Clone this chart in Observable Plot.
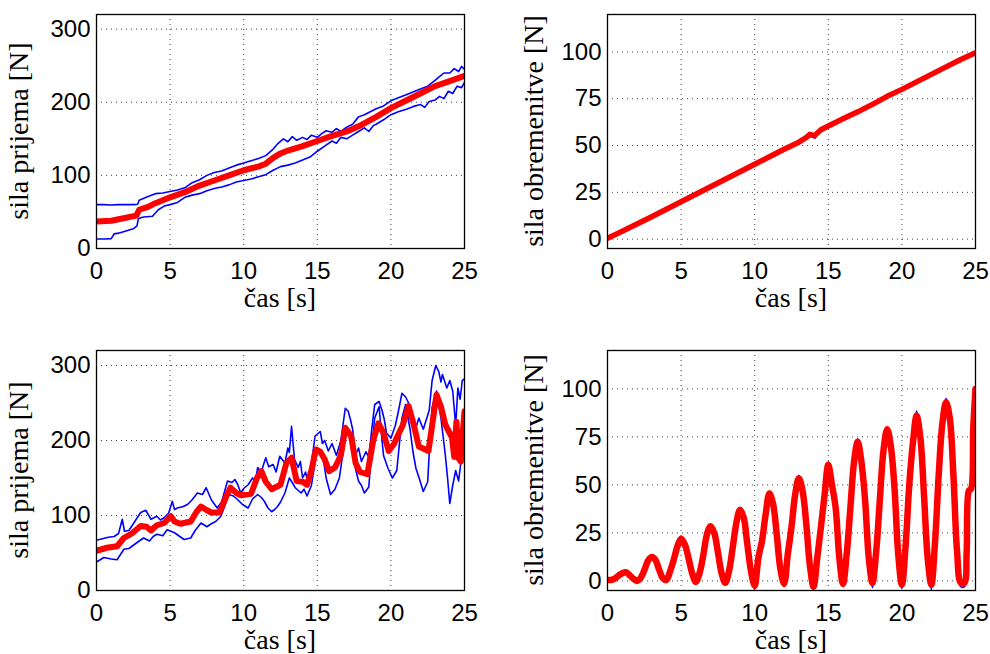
<!DOCTYPE html>
<html><head><meta charset="utf-8">
<script src="https://cdn.jsdelivr.net/npm/d3@7"></script>
<script src="https://cdn.jsdelivr.net/npm/@observablehq/plot@0.6"></script>
<style>
body{margin:0;background:#fff;}
#wrap{position:relative;width:990px;height:654px;background:#fff;}
.panel{position:absolute;width:495px;height:327px;}
</style></head><body><div id="wrap"></div>
<script>
// ---- shared tick labels ----
const xTicks = [0, 5, 10, 15, 20, 25];
const yTicksGrip = [0, 100, 200, 300];
const yTicksLoad = [0, 25, 50, 75, 100];
const xLabel = "čas [s]";
const yLabelGrip = "sila prijema [N]";
const yLabelLoad = "sila obremenitve [N]";

// ---- top-left: grip force, ramp load ([t, N]) ----
const tlUpper = [[0,60],[0.5,60],[1,59.5],[1.5,60],[2,60],[2.5,60],[2.8,60.5],[2.9,66],[3.5,71],[4,75],[4.5,76],[5,78],[5.5,80],[6,83],[6.5,90],[7,94],[7.5,100],[8,104],[8.5,106],[9,110],[9.5,114],[10,117],[10.5,120],[11,123],[11.5,127],[12,136],[12.3,143],[12.7,150],[13,146],[13.3,153],[13.6,148],[14,152],[14.3,149],[14.6,155],[15,152],[15.3,157],[15.6,161],[16,159],[16.3,164],[16.6,160],[17,166],[17.4,170],[17.8,180],[18.2,183],[18.6,187],[19,191],[19.5,195],[20,202],[20.5,206],[21,210],[21.5,214],[22,218],[22.5,222],[23,230],[23.3,235],[23.6,240],[24,240],[24.3,246],[24.6,242],[24.8,249],[25,245]];
const tlLower = [[0,13],[0.5,13],[1,13.5],[1.2,20],[1.5,21],[2,24],[2.5,27],[2.75,31],[2.85,41],[3.2,43],[3.8,44],[4.2,53],[4.6,58],[5,60],[5.5,63],[6,70],[6.5,73],[7,75],[7.5,79],[8,82],[8.5,84],[9,87],[9.5,91],[10,93],[10.5,95],[11,98],[11.5,101],[12,107],[12.5,112],[13,114],[13.5,117],[14,121],[14.5,125],[15,133],[15.5,140],[16,147],[16.3,144],[16.6,152],[17,150],[17.4,155],[17.8,160],[18.2,165],[18.5,160],[18.8,168],[19,170],[19.5,176],[20,183],[20.5,187],[21,190],[21.5,194],[22,197],[22.3,193],[22.6,201],[23,203],[23.3,208],[23.6,205],[23.9,215],[24.2,212],[24.5,222],[24.8,220],[25,227]];
const tlMean = [[0,37],[1,38],[2,42],[2.7,45],[2.9,53],[3.5,57],[4,62],[4.5,66],[5,70],[6,77],[7,86],[8,93],[9,100],[10,107],[11,112],[11.5,116],[12,124],[12.5,130],[13,134],[14,140],[15,147],[16,154],[17,160],[18,169],[19,180],[20,192],[21,202],[22,212],[23,222],[24,229],[25,236]];

// ---- top-right: load force, ramp ----
const trBlue = [[0,0.3],[1,4.1],[2,8],[3,12],[4,16],[5,20],[6,24],[7,28],[8,32],[9,36],[10,40],[11,44],[12,48],[13,51],[13.3,52.5],[13.6,54],[13.9,55.5],[14.1,54],[14.4,57.5],[15,60],[15.6,62],[16,64],[17,68],[18,72],[19,76],[20,80],[21,84],[22,88],[23,92],[24,96],[25,100]];
const trMean = [[0,0.5],[1,4.2],[2,8.1],[3,12],[4,16],[5,20],[6,24],[7,28],[8,32],[9,36],[10,40],[11,44],[12,48],[13,51.8],[13.5,54.3],[13.75,56],[14.05,55.2],[14.5,58.4],[15,60.4],[16,64.3],[17,68],[18,72],[19,76.3],[20,80],[21,84],[22,88],[23,92],[24,96],[25,99.5]];

// ---- bottom-left: grip force, oscillating load ----
const blUpper = [[0,67],[0.4,69],[0.8,71],[1.2,72],[1.5,76],[1.75,95],[1.9,79],[2.2,80],[2.6,92],[3,104],[3.35,107],[3.7,95],[4.1,99],[4.35,94],[4.6,97],[4.9,103],[5.15,119],[5.3,108],[5.5,110],[5.9,112],[6.2,115],[6.5,121],[6.85,130],[7.2,128],[7.45,137],[7.8,121],[8.2,110],[8.5,118],[8.7,132],[8.9,146],[9.2,144],[9.4,148],[9.6,141],[9.8,130],[10,136],[10.3,141],[10.6,150],[10.8,146],[10.95,164],[11.2,158],[11.35,168],[11.5,177],[11.7,165],[12,168],[12.2,158],[12.45,179],[12.8,170],[13,190],[13.1,184],[13.25,219],[13.45,175],[13.7,164],[13.85,172],[14,150],[14.2,158],[14.4,140],[14.6,170],[14.85,206],[15.2,212],[15.35,196],[15.5,200],[15.75,186],[16,196],[16.3,180],[16.6,200],[16.9,243],[17.1,239],[17.25,228],[17.4,215],[17.6,181],[17.8,190],[18,172],[18.3,185],[18.5,178],[18.7,215],[18.9,248],[19.2,252],[19.4,240],[19.55,228],[19.7,210],[20,203],[20.3,220],[20.5,238],[20.75,263],[21,258],[21.2,250],[21.35,240],[21.5,230],[21.7,217],[21.9,230],[22.2,215],[22.6,240],[22.8,280],[23.05,300],[23.25,292],[23.4,278],[23.5,288],[23.8,270],[24,280],[24.2,266],[24.4,220],[24.55,270],[24.7,255],[24.85,280],[25,282]];
const blLower = [[0,38],[0.5,44],[1,42],[1.4,41],[1.86,55],[2.2,56],[2.55,61],[2.9,66],[3.2,70],[3.6,66],[3.85,72],[4.1,75],[4.5,73],[4.8,81],[5.3,77],[5.95,68],[6.4,70],[6.7,80],[7.1,90],[7.5,85],[7.8,89],[8.1,92],[8.45,99],[8.7,112],[9,128],[9.3,126],[9.6,121],[9.9,115],[10.3,110],[10.6,122],[10.95,128],[11.2,124],[11.4,119],[11.65,110],[11.9,105],[12.1,108],[12.3,112],[12.5,118],[12.8,130],[13.1,150],[13.3,144],[13.5,137],[13.9,130],[14.1,135],[14.3,126],[14.6,140],[14.8,165],[15,190],[15.3,186],[15.45,170],[15.6,150],[15.9,128],[16.2,135],[16.5,150],[16.7,178],[16.9,204],[17.2,212],[17.35,190],[17.5,170],[17.8,146],[18,140],[18.2,130],[18.5,138],[18.7,190],[18.9,230],[19.2,245],[19.35,210],[19.5,180],[19.8,163],[20.1,150],[20.4,160],[20.6,200],[20.75,230],[21,248],[21.3,215],[21.5,185],[21.7,163],[21.95,148],[22.2,132],[22.5,145],[22.65,200],[22.8,244],[23.1,266],[23.4,230],[23.7,180],[23.85,150],[24,116],[24.2,140],[24.4,160],[24.6,146],[24.75,170],[25,199]];
const blMean = [[0,53],[0.7,57],[1.4,59],[1.86,70],[2.4,76],[3,86],[3.4,85],[3.7,80],[4.1,87],[4.6,90],[5.05,99],[5.3,92],[5.7,89],[6.4,92],[6.8,105],[7.1,112],[7.5,107],[7.8,104],[8.35,104],[8.8,125],[9.1,137],[9.5,130],[9.8,127],[10.5,129],[10.9,150],[11.2,159],[11.5,145],[11.9,135],[12.5,141],[12.9,170],[13.25,177],[13.6,146],[14,145],[14.3,141],[14.6,160],[14.9,188],[15.2,185],[15.5,175],[15.8,159],[16.2,164],[16.6,180],[16.9,217],[17.3,206],[17.6,170],[17.9,158],[18.4,155],[18.8,200],[19.15,223],[19.5,210],[19.85,186],[20.2,195],[20.5,208],[20.8,220],[21.2,246],[21.5,225],[21.9,192],[22.55,186],[22.8,220],[23.1,261],[23.4,245],[23.7,221],[24.15,204],[24.3,178],[24.45,225],[24.6,176],[24.75,172],[24.9,215],[25,239]];

// ---- bottom-right: load force, growing oscillation ----
const brMean = [[0,0.5],[0.25,0.5],[0.5,1.2],[0.75,2.8],[1,4],[1.25,4.5],[1.5,3],[1.75,1.2],[2,0],[2.25,1.5],[2.5,5.5],[2.75,10.5],[3,12.5],[3.25,11],[3.5,6],[3.75,1.5],[4,0.5],[4.25,5],[4.5,11],[4.75,18],[5,22],[5.25,19],[5.5,12],[5.75,4],[6,-0.5],[6.25,4],[6.5,13],[6.75,24],[7,28.5],[7.25,25],[7.5,15],[7.75,4],[8,-1],[8.25,5],[8.5,17],[8.75,30],[9,37],[9.25,33],[9.5,19],[9.75,5],[10,-2.5],[10.25,12],[10.5,21],[10.75,35],[11,45.5],[11.25,40],[11.5,24],[11.75,6],[12,-1.5],[12.25,14],[12.5,28],[12.75,45],[13,53.5],[13.25,47],[13.5,30],[13.75,8],[14,-3],[14.25,12],[14.5,28],[14.75,45],[15,60.5],[15.25,50],[15.5,38],[15.75,12],[16,-1.5],[16.25,14],[16.5,38],[16.75,62],[17,72.5],[17.25,62],[17.5,42],[17.75,12],[18,-1],[18.25,15],[18.5,42],[18.75,68],[19,79],[19.25,70],[19.5,48],[19.75,14],[20,-2],[20.25,18],[20.5,50],[20.75,72],[21,86],[21.25,75],[21.5,45],[21.75,12],[22,-2],[22.25,20],[22.5,55],[22.75,82],[23,93],[23.25,85],[23.5,55],[23.75,15],[24,-1],[24.25,-1],[24.4,15],[24.55,47],[24.7,48],[24.85,80],[25,100]];
const brBlue = [[0,0.5],[0.25,0.5],[0.5,1.2],[0.75,2.8],[1,4.3],[1.25,4.8],[1.5,3],[1.75,1.2],[2,-0.3],[2.25,1.5],[2.5,5.5],[2.75,10.5],[3,13],[3.25,11],[3.5,6],[3.75,1.5],[4,-0.3],[4.25,5],[4.5,11],[4.75,18],[5,23],[5.25,19],[5.5,12],[5.75,4],[6,-1.5],[6.25,4],[6.5,13],[6.75,24],[7,29.3],[7.25,25],[7.5,15],[7.75,4],[8,-2],[8.25,5],[8.5,17],[8.75,30],[9,38],[9.25,33],[9.5,19],[9.75,5],[10,-4.5],[10.25,12],[10.5,21],[10.75,35],[11,46.5],[11.25,40],[11.5,24],[11.75,6],[12,-3],[12.25,14],[12.5,28],[12.75,45],[13,55],[13.25,47],[13.5,30],[13.75,8],[14,-4.5],[14.25,12],[14.5,28],[14.75,45],[15,62],[15.25,50],[15.5,38],[15.75,12],[16,-3],[16.25,14],[16.5,38],[16.75,62],[17,74],[17.25,62],[17.5,42],[17.75,12],[18,-3.5],[18.25,15],[18.5,42],[18.75,68],[19,80],[19.25,70],[19.5,48],[19.75,14],[20,-4],[20.25,18],[20.5,50],[20.75,72],[21,88.5],[21.25,75],[21.5,45],[21.75,12],[22,-4.5],[22.25,20],[22.5,55],[22.75,82],[23,95],[23.25,85],[23.5,55],[23.75,15],[24,-3],[24.25,-3],[24.4,15],[24.55,45],[24.7,48],[24.85,80],[25,101]];

const W = 495, H = 327;
const tickFont = "'Liberation Sans', Arial, Helvetica, sans-serif";
const labelFont = "'Liberation Serif', 'Times New Roman', serif";

function panel(opts) {
  const {left, top, mL, mR, mT, mB, yDomain, yTicks, yLabel, blues, mean, meanWidth, curve, yLabelOffset} = opts;
  const marks = [
    Plot.ruleX(xTicks, {stroke: "black", strokeOpacity: 0.75, strokeDasharray: "1,4"}),
    Plot.ruleY(yTicks, {stroke: "black", strokeOpacity: 0.75, strokeDasharray: "1,4"}),
    ...blues.map(b => Plot.line(b, {x: d => d[0], y: d => d[1], stroke: "#0000ff", strokeWidth: 1.6, curve, clip: true})),
    Plot.line(mean, {x: d => d[0], y: d => d[1], stroke: "#ff0000", strokeWidth: meanWidth, curve, clip: true}),
    Plot.frame({stroke: "black", strokeWidth: 1.3})
  ];
  const svg = Plot.plot({
    width: W, height: H,
    marginLeft: mL, marginRight: mR, marginTop: mT, marginBottom: mB,
    x: {domain: [0, 25], ticks: xTicks, tickSize: 0, tickPadding: 13, label: null},
    y: {domain: yDomain, ticks: yTicks, tickSize: 0, tickPadding: 6, label: null},
    style: {fontFamily: tickFont, fontSize: "24px", color: "black", background: "white", overflow: "visible"},
    marks
  });
  const div = document.createElement("div");
  div.className = "panel";
  div.style.left = left + "px";
  div.style.top = top + "px";
  div.appendChild(svg);
  document.getElementById("wrap").appendChild(div);
  const s = d3.select(svg);
  s.append("text")
    .attr("x", (mL + W - mR) / 2)
    .attr("y", H - mB + 59)
    .attr("text-anchor", "middle")
    .attr("font-family", labelFont)
    .attr("font-size", 28)
    .attr("fill", "black")
    .text(xLabel);
  s.append("text")
    .attr("transform", `translate(${mL - yLabelOffset},${(mT + H - mB) / 2}) rotate(-90)`)
    .attr("text-anchor", "middle")
    .attr("font-family", labelFont)
    .attr("font-size", 28)
    .attr("fill", "black")
    .text(yLabel);
}

panel({left: 0, top: 0, mL: 96, mR: 31, mT: 14, mB: 79, yDomain: [0, 320], yTicks: yTicksGrip, yLabel: yLabelGrip, blues: [tlUpper, tlLower], mean: tlMean, meanWidth: 6, curve: "linear", yLabelOffset: 68});
panel({left: 495, top: 0, mL: 112, mR: 15, mT: 14, mB: 79, yDomain: [-5, 120], yTicks: yTicksLoad, yLabel: yLabelLoad, blues: [trBlue], mean: trMean, meanWidth: 5.5, curve: "linear", yLabelOffset: 64});
panel({left: 0, top: 327, mL: 96, mR: 31, mT: 23, mB: 64, yDomain: [0, 320], yTicks: yTicksGrip, yLabel: yLabelGrip, blues: [blUpper, blLower], mean: blMean, meanWidth: 6, curve: "linear", yLabelOffset: 68});
panel({left: 495, top: 327, mL: 112, mR: 15, mT: 23, mB: 64, yDomain: [-5, 120], yTicks: yTicksLoad, yLabel: yLabelLoad, blues: [brBlue], mean: brMean, meanWidth: 6.5, curve: "catmull-rom", yLabelOffset: 64});
</script>
</body></html>
